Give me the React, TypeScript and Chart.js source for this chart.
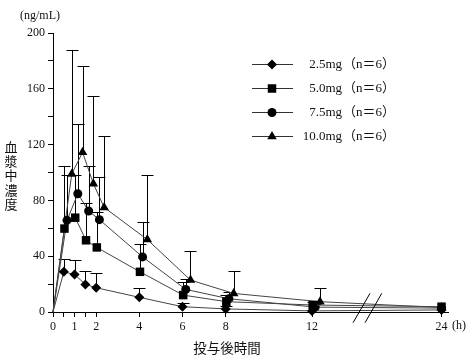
import React, { useEffect, useRef } from "react";
import { Chart, registerables } from "chart.js";

Chart.register(...registerables);

// ---- data ----
const times = [0, 0.5, 1, 1.5, 2, 4, 6, 8, 12, 24];
const doseLabels = ["2.5mg", "5.0mg", "7.5mg", "10.0mg"];
const nLabel = "（n＝6）";

const conc25 = [0, 28.8, 26.9, 19.8, 17.4, 10.5, 3.8, 2.2, 0.8, 1.5];
const upper25 = [null, 38, 37, 29.5, 27.6, 17.4, 6.6, 4.2, null, null];

const conc50 = [0, 59.8, 67.6, 51.4, 46.3, 28.8, 12.1, 7.4, 5.0, 3.8];
const upper50 = [null, 105, 98.5, 78, 71.6, 49, 21.7, 12, 7, null];

const conc75 = [0, 65.7, 84.8, 72.4, 66.2, 39.5, 16.2, 9.5, 3.5, 2.8];
const upper75 = [null, 98.5, 135, 105, 97, 64.5, 24, 14.5, 6, null];

const conc100 = [0, 99, 114.5, 92, 75, 51.9, 22.9, 13.3, 7.4, 3.2];
const upper100 = [null, 187.6, 176, 154.5, 126, 98.5, 44, 29.5, 17, null];

const xTickValues = [0, 0.5, 1, 1.5, 2, 4, 6, 8, 12, 24];
const xTickLabels = ["0", "", "1", "", "2", "4", "6", "8", "12", "24"];
const yMax = 200;
const yStep = 20;
const yLabelStep = 40;

// ---- styling ----
const dodges = [0, 0.03, 0.15, 0.37];
const pointStyles = ["rectRot", "rect", "circle", "triangle"];
const pointRadii = [5, 6, 4.5, 5.5];
const seriesConc = [conc25, conc50, conc75, conc100];
const seriesUpper = [upper25, upper50, upper75, upper100];

const SERIF = "'Liberation Serif', 'Times New Roman', serif";
const CJK = "'Noto Sans CJK JP', sans-serif";

// axis break: times above 12 h are drawn at half scale
const compress = (t: number) => (t <= 12 ? t : 12 + (t - 12) / 2);

function drawMarker(ctx: CanvasRenderingContext2D, style: string, x: number, y: number, r: number) {
  ctx.beginPath();
  if (style === "rectRot") {
    ctx.moveTo(x, y - r);
    ctx.lineTo(x + r, y);
    ctx.lineTo(x, y + r);
    ctx.lineTo(x - r, y);
  } else if (style === "rect") {
    const s = r * Math.SQRT1_2;
    ctx.rect(x - s, y - s, 2 * s, 2 * s);
  } else if (style === "circle") {
    ctx.arc(x, y, r, 0, Math.PI * 2);
  } else {
    const h = r * 1.5;
    const w = r * Math.sqrt(3) / 2;
    ctx.moveTo(x, y - r);
    ctx.lineTo(x + w, y + h - r);
    ctx.lineTo(x - w, y + h - r);
  }
  ctx.closePath();
  ctx.fill();
}

const errorBarPlugin = {
  id: "errorBars",
  beforeDatasetsDraw(chart: any) {
    const ctx = chart.ctx;
    const ys = chart.scales.y;
    ctx.save();
    ctx.strokeStyle = "#000";
    ctx.lineWidth = 1;
    chart.data.datasets.forEach((_ds: any, di: number) => {
      const meta = chart.getDatasetMeta(di);
      const upper = seriesUpper[di];
      meta.data.forEach((el: any, i: number) => {
        const u = upper[i];
        if (u == null) return;
        const yTop = Math.round(ys.getPixelForValue(u)) + 0.5;
        const x = Math.round(el.x) + 0.5;
        ctx.beginPath();
        ctx.moveTo(x, el.y);
        ctx.lineTo(x, yTop);
        ctx.moveTo(x - 6, yTop);
        ctx.lineTo(x + 6, yTop);
        ctx.stroke();
      });
    });
    ctx.restore();
  },
};

const decorPlugin = {
  id: "decor",
  afterDraw(chart: any) {
    const ctx = chart.ctx;
    const xs = chart.scales.x;
    const axisY = chart.chartArea.bottom;
    ctx.save();

    // axis break
    const cx = xs.getPixelForValue(14.55);
    ctx.strokeStyle = "#000";
    ctx.lineWidth = 1;
    ctx.beginPath();
    ctx.moveTo(cx - 14, axisY + 10.7);
    ctx.lineTo(cx + 3, axisY - 18.7);
    ctx.moveTo(cx - 2, axisY + 10.7);
    ctx.lineTo(cx + 14.7, axisY - 18.7);
    ctx.stroke();

    // legend
    const rows = [64, 88, 112, 136];
    rows.forEach((ry, i) => {
      ctx.strokeStyle = "#333";
      ctx.lineWidth = 1;
      ctx.beginPath();
      ctx.moveTo(252, ry + 0.5);
      ctx.lineTo(293, ry + 0.5);
      ctx.stroke();
      ctx.fillStyle = "#000";
      drawMarker(ctx, pointStyles[i], 272, ry + 0.5, pointRadii[i]);
      ctx.fillStyle = "#111";
      ctx.textBaseline = "middle";
      ctx.font = `13px ${SERIF}`;
      ctx.textAlign = "right";
      ctx.fillText(doseLabels[i], 342, ry + 1);
      ctx.textAlign = "left";
      ctx.font = `13px 'Liberation Serif', 'Noto Sans CJK JP', serif`;
      ctx.fillText(nLabel, 343, ry + 1);
    });

    // unit labels
    ctx.fillStyle = "#111";
    ctx.font = `12px ${SERIF}`;
    ctx.textAlign = "left";
    ctx.textBaseline = "middle";
    ctx.fillText("(ng/mL)", 20, 16);
    ctx.fillText("(h)", 452, 326);

    // y title (vertical, upright characters)
    ctx.font = `13px ${CJK}`;
    ctx.textAlign = "center";
    ctx.textBaseline = "middle";
    const yTitle = "血漿中濃度";
    Array.from(yTitle).forEach((ch, i) => {
      ctx.fillText(ch, 11, 147 + i * 14.2);
    });

    // x title
    ctx.font = `13.5px ${CJK}`;
    ctx.fillText("投与後時間", 227, 348);

    ctx.restore();
  },
};

export default function App() {
  const canvasRef = useRef<HTMLCanvasElement | null>(null);

  useEffect(() => {
    document.body.style.margin = "0";
    const canvas = canvasRef.current;
    if (!canvas) return;

    const datasets = seriesConc.map((conc, si) => ({
      label: doseLabels[si],
      data: times.map((t, i) => ({
        x: t === 0 || t > 12 ? compress(t) : compress(t) + dodges[si],
        y: conc[i],
      })),
      showLine: true,
      tension: 0,
      borderColor: "#444",
      borderWidth: 1,
      pointStyle: pointStyles[si],
      pointRadius: (c: any) => (c.dataIndex === 0 ? 0 : pointRadii[si]),
      pointHoverRadius: pointRadii[si],
      pointBackgroundColor: "#000",
      pointBorderColor: "#000",
      pointBorderWidth: 0,
      clip: false,
    }));

    const chart = new Chart(canvas, {
      type: "line",
      data: { datasets },
      plugins: [errorBarPlugin, decorPlugin],
      options: {
        animation: false,
        responsive: false,
        maintainAspectRatio: false,
        layout: { padding: { left: 0, top: 33, right: 28, bottom: 0 } },
        plugins: {
          legend: { display: false },
          tooltip: { enabled: false },
        },
        scales: {
          x: {
            type: "linear",
            min: 0,
            max: 18.3,
            afterFit: (s: any) => {
              s.height = 52;
            },
            afterBuildTicks: (s: any) => {
              s.ticks = xTickValues.map((t) => ({ value: compress(t) }));
            },
            ticks: {
              autoSkip: false,
              maxRotation: 0,
              color: "#111",
              padding: 3,
              font: { family: SERIF, size: 12 },
              callback: (_v: any, index: number) => xTickLabels[index],
            },
            grid: { drawOnChartArea: false, drawTicks: true, tickLength: 5, color: "#000" },
            border: { display: true, color: "#000", width: 1 },
          },
          y: {
            type: "linear",
            min: 0,
            max: yMax,
            afterFit: (s: any) => {
              s.width = 53;
            },
            ticks: {
              stepSize: yStep,
              color: "#111",
              padding: 3,
              font: { family: SERIF, size: 12 },
              callback: (v: any) => (Number(v) % yLabelStep === 0 ? String(v) : ""),
            },
            grid: { drawOnChartArea: false, drawTicks: true, tickLength: 5, color: "#000" },
            border: { display: true, color: "#000", width: 1 },
          },
        },
      } as any,
    });

    return () => chart.destroy();
  }, []);

  return (
    <div style={{ position: "fixed", left: 0, top: 0, width: 476, height: 364, background: "#fff" }}>
      <canvas ref={canvasRef} width={476} height={364} style={{ width: 476, height: 364, display: "block" }} />
    </div>
  );
}
